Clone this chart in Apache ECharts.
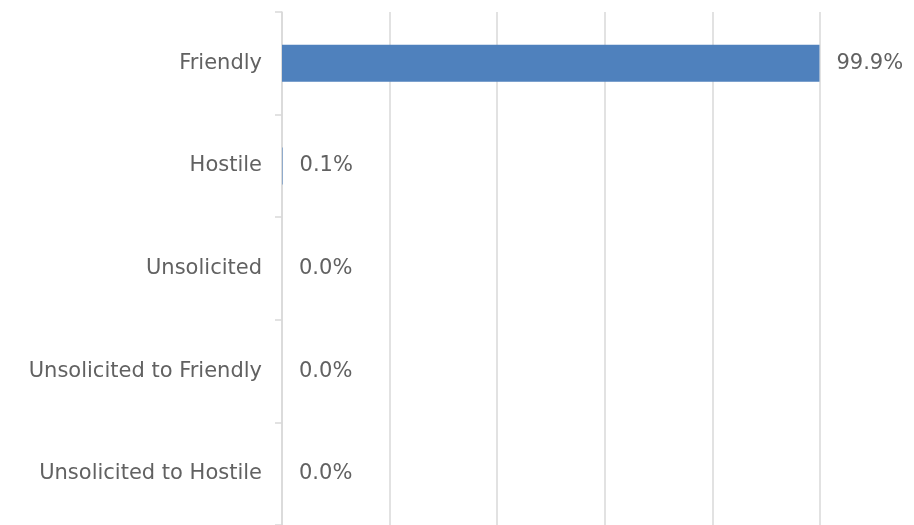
<!DOCTYPE html>
<html><head><meta charset="utf-8">
<script src="https://cdn.jsdelivr.net/npm/echarts@6/dist/echarts.min.js"></script>
<style>html,body{margin:0;padding:0;background:#fff}#c{width:914px;height:525px}</style>
</head><body><div id="c"></div>
<script>
const categories = ["Friendly", "Hostile", "Unsolicited", "Unsolicited to Friendly", "Unsolicited to Hostile"];
const values = [99.9, 0.1, 0.0, 0.0, 0.0];
const xTicks = [0, 20, 40, 60, 80, 100];

const chart = echarts.init(document.getElementById('c'));
const font = 'DejaVu Sans';
chart.setOption({
  animation: false,
  grid: { left: 282, right: 94, top: 12, bottom: -3, containLabel: false },
  xAxis: {
    type: 'value', min: xTicks[0], max: xTicks[xTicks.length - 1], interval: 20,
    axisLabel: { show: false }, axisLine: { show: false }, axisTick: { show: false },
    splitLine: { show: true, lineStyle: { color: '#d9d9d9', width: 1.5 } }
  },
  yAxis: {
    type: 'category', data: categories, inverse: true,
    axisLine: { show: true, lineStyle: { color: '#d9d9d9', width: 1.5 } },
    axisTick: { show: true, length: 7, lineStyle: { color: '#d9d9d9', width: 1.5 } },
    axisLabel: { color: '#616161', fontSize: 21, fontFamily: font, margin: 20, padding: [6, 0, 0, 0] }
  },
  series: [{
    type: 'bar', data: values, barWidth: 37,
    itemStyle: { color: '#4f81bd' },
    label: { show: true, position: 'right', distance: 17, color: '#616161', fontSize: 21, fontFamily: font,
      padding: [6, 0, 0, 0],
      formatter: p => p.value.toFixed(1) + '%' }
  }]
});
</script></body></html>
